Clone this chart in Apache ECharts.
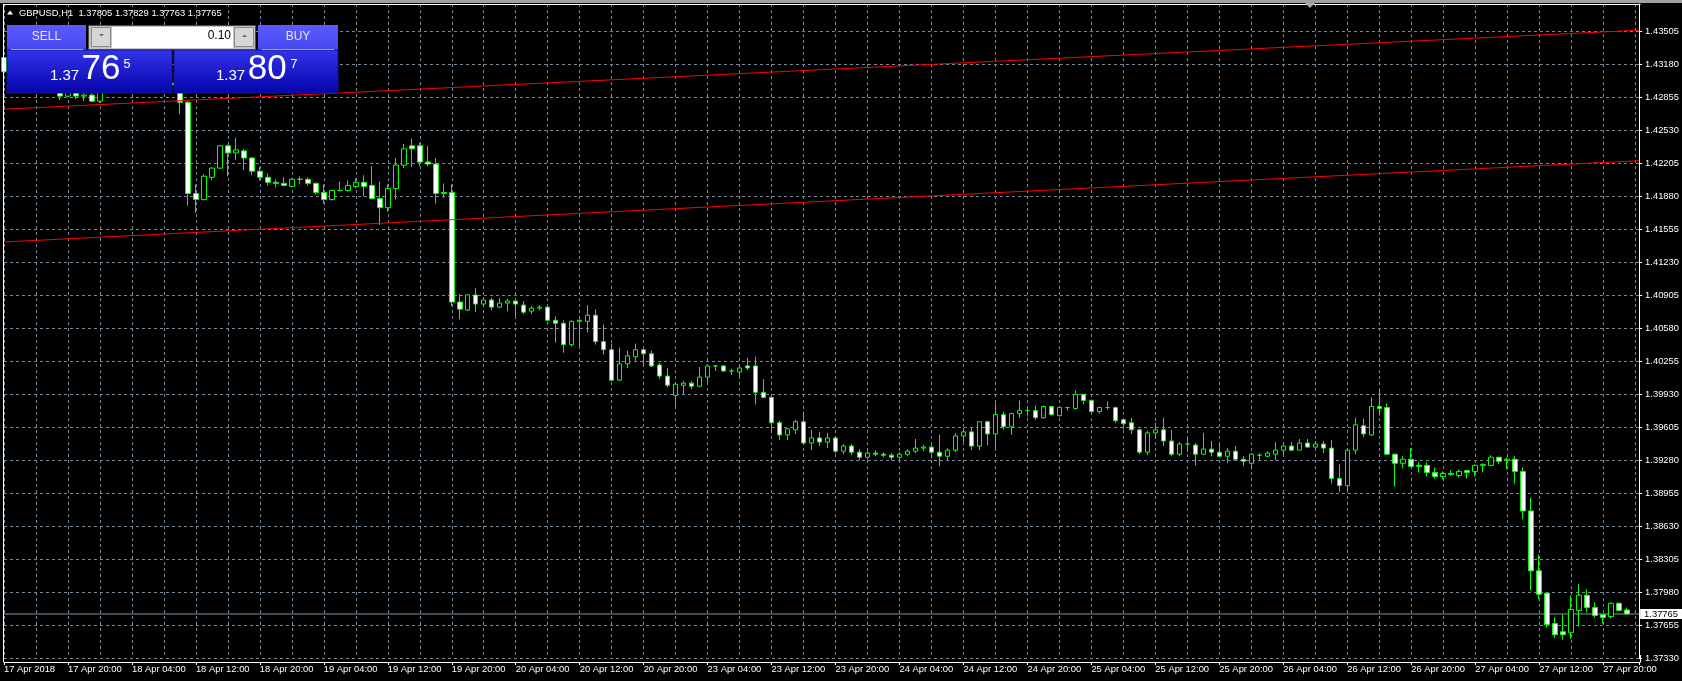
<!DOCTYPE html>
<html><head><meta charset="utf-8">
<script src="https://cdn.jsdelivr.net/npm/echarts@6/dist/echarts.min.js"></script>
<style>html,body{margin:0;padding:0;background:#000;overflow:hidden}#c{width:1682px;height:681px}</style>
</head><body><div id="c"></div>
<script>
// ---------------- data ----------------
const symbolName = 'GBPUSD,H1';
const lastBar = [1.37805, 1.37829, 1.37763, 1.37765];
const bidPrice = 1.37765;
const askPrice = 1.37807;
const lotSize = '0.10';

const tickLabels = ['17 Apr 2018','17 Apr 20:00','18 Apr 04:00','18 Apr 12:00','18 Apr 20:00','19 Apr 04:00','19 Apr 12:00','19 Apr 20:00','20 Apr 04:00','20 Apr 12:00','20 Apr 20:00','23 Apr 04:00','23 Apr 12:00','23 Apr 20:00','24 Apr 04:00','24 Apr 12:00','24 Apr 20:00','25 Apr 04:00','25 Apr 12:00','25 Apr 20:00','26 Apr 04:00','26 Apr 12:00','26 Apr 20:00','27 Apr 04:00','27 Apr 12:00','27 Apr 20:00'];
const barsPerLabel = 8;

const opens = [
1.4325,1.4311,1.4334,1.4326,1.4309,1.4302,1.4306,1.4296,1.4287,1.4291,1.4287,1.4288,1.4282,1.4292,1.4299,1.4296,1.4301,1.4305,1.4299,1.4302,
1.4297,1.4300,1.4298,1.4281,1.4191,1.4185,1.4207,1.4216,1.4238,1.4231,1.4233,1.4226,1.4213,1.4207,1.4202,1.4201,1.4198,1.4205,1.4205,1.4201,
1.4192,1.4185,1.4194,1.4194,1.4198,1.4202,1.4199,1.4186,1.4177,1.4196,1.4219,1.4238,1.4238,1.4222,1.4220,1.4191,1.4192,1.4084,1.4076,1.4091,
1.4082,1.4086,1.4079,1.4083,1.4085,1.4081,1.4075,1.4078,1.4079,1.4066,1.4063,1.4042,1.4065,1.4065,1.4071,1.4045,1.4037,1.4007,1.4023,1.4030,
1.4037,1.4033,1.4022,1.4011,1.3992,1.4002,1.4004,1.4001,1.4010,1.4021,1.4021,1.4016,1.4015,1.4021,1.4021,1.3995,1.3990,1.3965,1.3953,1.3958,
1.3966,1.3945,1.3950,1.3946,1.3950,1.3937,1.3942,1.3936,1.3931,1.3935,1.3934,1.3933,1.3931,1.3934,1.3937,1.3940,1.3941,1.3936,1.3932,1.3938,
1.3952,1.3956,1.3942,1.3966,1.3954,1.3973,1.3961,1.3974,1.3977,1.3977,1.3970,1.3981,1.3972,1.3980,1.3979,1.3993,1.3987,1.3976,1.3980,1.3980,
1.3968,1.3965,1.3958,1.3936,1.3955,1.3958,1.3947,1.3934,1.3944,1.3943,1.3934,1.3939,1.3936,1.3932,1.3937,1.3929,1.3925,1.3933,1.3932,1.3934,
1.3938,1.3942,1.3938,1.3945,1.3941,1.3944,1.3940,1.3910,1.3903,1.3938,1.3962,1.3953,1.3981,1.3980,1.3934,1.3925,1.3929,1.3923,1.3923,1.3916,
1.3912,1.3914,1.3913,1.3918,1.3917,1.3923,1.3923,1.3931,1.3928,1.3929,1.3917,1.3878,1.3819,1.3797,1.3767,1.3759,1.3758,1.3780,1.3795,1.3783,
1.3776,1.3774,1.3787,1.37805];
const highs = [
1.4335,1.4340,1.4352,1.4331,1.4318,1.4312,1.4310,1.4302,1.4295,1.4298,1.4294,1.4292,1.4296,1.4302,1.4306,1.4304,1.4309,1.4310,1.4304,1.4308,
1.4303,1.4306,1.4303,1.4282,1.4200,1.4210,1.4217,1.4239,1.4239,1.4246,1.4235,1.4227,1.4217,1.4211,1.4205,1.4207,1.4206,1.4208,1.4207,1.4202,
1.4200,1.4195,1.4203,1.4204,1.4206,1.4209,1.4218,1.4203,1.4200,1.4226,1.4240,1.4245,1.4241,1.4238,1.4226,1.4201,1.4200,1.4092,1.4092,1.4098,
1.4089,1.4088,1.4088,1.4087,1.4085,1.4085,1.4080,1.4081,1.4080,1.4070,1.4066,1.4066,1.4067,1.4081,1.4077,1.4062,1.4043,1.4039,1.4036,1.4043,
1.4037,1.4036,1.4024,1.4019,1.4005,1.4006,1.4006,1.4020,1.4021,1.4022,1.4022,1.4018,1.4022,1.4029,1.4030,1.4008,1.3991,1.3967,1.3960,1.3968,
1.3976,1.3958,1.3956,1.3955,1.3952,1.3944,1.3944,1.3939,1.3937,1.3938,1.3936,1.3935,1.3936,1.3939,1.3949,1.3943,1.3943,1.3953,1.3940,1.3955,
1.3960,1.3960,1.3966,1.3967,1.3984,1.3976,1.3975,1.3987,1.3981,1.3982,1.3982,1.3982,1.3981,1.3980,1.3997,1.3993,1.3988,1.3980,1.3986,1.3981,
1.3969,1.3970,1.3959,1.3957,1.3965,1.3970,1.3958,1.3946,1.3949,1.3945,1.3955,1.3947,1.3946,1.3940,1.3942,1.3932,1.3935,1.3935,1.3937,1.3946,
1.3946,1.3946,1.3949,1.3949,1.3947,1.3947,1.3948,1.3924,1.3940,1.3970,1.3969,1.3990,1.3998,1.3984,1.3934,1.3932,1.3940,1.3926,1.3926,1.3921,
1.3917,1.3918,1.3919,1.3918,1.3924,1.3925,1.3933,1.3931,1.3931,1.3932,1.3921,1.3891,1.3835,1.3798,1.3773,1.3776,1.3795,1.3806,1.3801,1.3788,
1.3776,1.3788,1.3788,1.37829];
const lows = [
1.4311,1.4308,1.4322,1.4305,1.4298,1.4296,1.4294,1.4283,1.4286,1.4284,1.4282,1.4281,1.4280,1.4291,1.4293,1.4292,1.4297,1.4296,1.4293,1.4295,
1.4292,1.4294,1.4269,1.4179,1.4172,1.4184,1.4204,1.4215,1.4208,1.4224,1.4214,1.4209,1.4204,1.4199,1.4197,1.4198,1.4197,1.4200,1.4199,1.4190,
1.4181,1.4184,1.4193,1.4193,1.4196,1.4188,1.4185,1.4160,1.4173,1.4185,1.4216,1.4217,1.4218,1.4218,1.4181,1.4187,1.4080,1.4067,1.4075,1.4074,
1.4079,1.4076,1.4078,1.4075,1.4070,1.4072,1.4072,1.4076,1.4065,1.4044,1.4034,1.4040,1.4040,1.4054,1.4042,1.4032,1.4006,1.4006,1.4019,1.4026,
1.4020,1.4020,1.4008,1.4000,1.3981,1.3993,1.3998,1.4000,1.4004,1.4016,1.4015,1.4012,1.4010,1.4017,1.3983,1.3989,1.3955,1.3948,1.3948,1.3954,
1.3943,1.3938,1.3942,1.3940,1.3935,1.3934,1.3933,1.3928,1.3929,1.3932,1.3931,1.3928,1.3927,1.3932,1.3935,1.3937,1.3930,1.3922,1.3928,1.3936,
1.3946,1.3938,1.3938,1.3943,1.3940,1.3958,1.3953,1.3970,1.3971,1.3968,1.3969,1.3972,1.3971,1.3977,1.3978,1.3983,1.3975,1.3974,1.3978,1.3965,
1.3959,1.3954,1.3934,1.3933,1.3949,1.3942,1.3932,1.3932,1.3936,1.3923,1.3933,1.3932,1.3931,1.3925,1.3928,1.3922,1.3919,1.3928,1.3931,1.3928,
1.3933,1.3937,1.3938,1.3940,1.3939,1.3935,1.3905,1.3897,1.3898,1.3934,1.3951,1.3952,1.3972,1.3933,1.3902,1.3920,1.3921,1.3916,1.3912,1.3910,
1.3909,1.3913,1.3911,1.3910,1.3912,1.3916,1.3923,1.3924,1.3919,1.3905,1.3870,1.3800,1.3791,1.3763,1.3753,1.3751,1.3752,1.3764,1.3778,1.3773,
1.3767,1.3772,1.3779,1.37763];
const closes = [
1.4311,1.4334,1.4326,1.4309,1.4302,1.4306,1.4296,1.4287,1.4291,1.4287,1.4288,1.4282,1.4292,1.4299,1.4296,1.4301,1.4305,1.4299,1.4302,1.4297,
1.4300,1.4298,1.4281,1.4191,1.4185,1.4208,1.4216,1.4238,1.4231,1.4234,1.4226,1.4213,1.4207,1.4202,1.4201,1.4199,1.4205,1.4205,1.4201,1.4192,
1.4185,1.4194,1.4194,1.4199,1.4202,1.4198,1.4186,1.4177,1.4196,1.4219,1.4235,1.4235,1.4222,1.4220,1.4191,1.4192,1.4084,1.4077,1.4091,1.4082,
1.4086,1.4079,1.4083,1.4085,1.4082,1.4074,1.4078,1.4079,1.4066,1.4063,1.4042,1.4065,1.4066,1.4071,1.4045,1.4037,1.4007,1.4023,1.4031,1.4037,
1.4033,1.4021,1.4011,1.4002,1.4003,1.4004,1.4001,1.4010,1.4021,1.4021,1.4016,1.4016,1.4019,1.4019,1.3995,1.3990,1.3965,1.3953,1.3959,1.3966,
1.3945,1.3950,1.3946,1.3950,1.3937,1.3942,1.3936,1.3931,1.3935,1.3934,1.3933,1.3931,1.3934,1.3937,1.3940,1.3941,1.3936,1.3932,1.3938,1.3952,
1.3956,1.3942,1.3966,1.3954,1.3973,1.3961,1.3974,1.3977,1.3977,1.3970,1.3981,1.3973,1.3980,1.3980,1.3993,1.3987,1.3976,1.3980,1.3980,1.3967,
1.3964,1.3958,1.3936,1.3955,1.3958,1.3947,1.3934,1.3944,1.3944,1.3934,1.3939,1.3936,1.3932,1.3937,1.3929,1.3927,1.3934,1.3933,1.3935,1.3938,
1.3942,1.3938,1.3945,1.3941,1.3944,1.3940,1.3910,1.3903,1.3938,1.3963,1.3954,1.3981,1.3979,1.3934,1.3925,1.3929,1.3922,1.3922,1.3916,1.3912,
1.3915,1.3915,1.3917,1.3916,1.3923,1.3924,1.3931,1.3927,1.3929,1.3917,1.3878,1.3819,1.3796,1.3766,1.3756,1.3756,1.3781,1.3795,1.3783,1.3775,
1.3773,1.3787,1.3780,1.37765];

// channel trend lines: [bar index, price]
const upperTrend = [[0, 1.42741], [204.5, 1.43520]];
const lowerTrend = [[0, 1.41432], [204.5, 1.42233]];

// price axis
const priceBase = 1.37330;   // lowest labelled price
const priceStep = 0.00325;   // label step
const priceTop = 1.43778;    // price at the top edge of the chart
const barSlots = 204.5;      // visible bar slots

// ---------------- chart ----------------
const FONT = '"Liberation Sans", Arial, sans-serif';
const GRID = '#778899';
const LIME = '#00ff00';

const candleData = opens.map((o, i) => [i, o - priceBase, closes[i] - priceBase, lows[i] - priceBase, highs[i] - priceBase]);
const shift = arr => arr.map(p => [p[0], p[1] - priceBase]);

function splitQuote(p) { const s = p.toFixed(5); return [s.slice(0, 4), s.slice(4, 6), s.slice(6)]; }
const sq = splitQuote(bidPrice), bq = splitQuote(askPrice);

function grad(a, b) { return new echarts.graphic.LinearGradient(0, 0, 0, 1, [{offset: 0, color: a}, {offset: 1, color: b}]); }
function txt(text, x, y, size, fill, align) {
  return {type: 'text', z: 110, silent: true, style: {text: text, x: x, y: y, fill: fill, fontSize: size, fontFamily: FONT, align: align || 'left', verticalAlign: 'middle'}};
}

const chart = echarts.init(document.getElementById('c'), null, {renderer: 'canvas'});
chart.setOption({
  animation: false,
  backgroundColor: '#000',
  grid: {left: 4, right: 42, top: 4, bottom: 22.9, containLabel: false},
  xAxis: [{
    type: 'value', position: 'bottom', min: 0, max: barSlots, interval: barsPerLabel, offset: 4,
    axisLine: {show: true, onZero: false, lineStyle: {color: '#fff', width: 1}},
    axisTick: {show: true, inside: false, length: 3, lineStyle: {color: '#fff'}},
    axisLabel: {show: true, color: '#fff', fontSize: 9.4, fontFamily: FONT, align: 'left', margin: 3,
      formatter: v => (v % barsPerLabel === 0 && tickLabels[v / barsPerLabel]) || ''},
    splitLine: {show: false}
  }, {
    type: 'value', position: 'top', min: 0, max: barSlots, interval: barsPerLabel / 2,
    axisLine: {show: false, onZero: false}, axisTick: {show: false}, axisLabel: {show: false},
    splitLine: {show: true, lineStyle: {color: GRID, width: 1, type: [3, 3]}}
  }],
  yAxis: {
    type: 'value', position: 'right', min: 0, max: priceTop - priceBase, interval: priceStep,
    axisLine: {show: true, onZero: false, lineStyle: {color: '#fff', width: 1}},
    axisTick: {show: true, inside: false, length: 3, lineStyle: {color: '#fff'}},
    axisLabel: {show: true, color: '#fff', fontSize: 9.4, fontFamily: FONT, margin: 6, showMaxLabel: false,
      formatter: v => (priceBase + v).toFixed(5)},
    splitLine: {show: true, lineStyle: {color: GRID, width: 1, type: [3, 3]}}
  },
  series: [{
    type: 'line', xAxisIndex: 0, data: [[0, bidPrice - priceBase], [barSlots, bidPrice - priceBase]],
    symbol: 'none', silent: true, z: 2,
    lineStyle: {color: '#8795a3', width: 1},
    endLabel: {show: true, formatter: bidPrice.toFixed(5), color: '#000', backgroundColor: '#fff', distance: 1,
      fontSize: 9.4, fontFamily: FONT, padding: [1, 4, 0, 4]}
  }, {
    type: 'candlestick', xAxisIndex: 0, yAxisIndex: 0, data: candleData, barWidth: 5, clip: false,
    large: false, emphasis: {disabled: true}, silent: true,
    itemStyle: {color: '#000', color0: '#fff', borderColor: LIME, borderColor0: LIME, borderColorDoji: LIME, borderWidth: 1},
    z: 3
  }, {
    type: 'line', xAxisIndex: 0, data: shift(upperTrend), symbol: 'none', silent: true,
    lineStyle: {color: '#ff0000', width: 1}, z: 4
  }, {
    type: 'line', xAxisIndex: 0, data: shift(lowerTrend), symbol: 'none', silent: true,
    lineStyle: {color: '#ff0000', width: 1}, z: 4
  }],
  graphic: {elements: [
    {type: 'rect', z: 100, silent: true, shape: {x: 0, y: 0, width: 1682, height: 3}, style: {fill: '#a0a0a0'}},
    {type: 'line', z: 100, silent: true, shape: {x1: 3.5, y1: 4.5, x2: 1640.5, y2: 4.5}, style: {stroke: '#fff', lineWidth: 1}},
    {type: 'line', z: 100, silent: true, shape: {x1: 3.5, y1: 4, x2: 3.5, y2: 662}, style: {stroke: '#fff', lineWidth: 1}},
    {type: 'line', z: 100, silent: true, shape: {x1: 1640.5, y1: 655, x2: 1640.5, y2: 662.5}, style: {stroke: '#fff', lineWidth: 1}},
    {type: 'polygon', z: 100, silent: true, shape: {points: [[1305, 3], [1315, 3], [1310, 8]]}, style: {fill: '#a8a8a8'}},
    // title
    {type: 'polygon', z: 110, silent: true, shape: {points: [[7, 14.5], [13, 14.5], [10, 10.5]]}, style: {fill: '#fff'}},
    txt(symbolName + '  ' + lastBar.map(v => v.toFixed(5)).join(' '), 19, 13.4, 9.4, '#fff'),
    // one-click trading panel
    {type: 'rect', z: 105, silent: true, shape: {x: 7, y: 25, width: 79, height: 25}, style: {fill: grad('#5a5afd', '#4848f0')}},
    {type: 'rect', z: 105, silent: true, shape: {x: 7, y: 50, width: 165, height: 43}, style: {fill: grad('#3333ea', '#0404aa'), stroke: '#16168c', lineWidth: 1}},
    {type: 'rect', z: 105, silent: true, shape: {x: 258, y: 25, width: 80, height: 25}, style: {fill: grad('#5a5afd', '#4848f0')}},
    {type: 'rect', z: 105, silent: true, shape: {x: 174, y: 50, width: 164, height: 43}, style: {fill: grad('#3333ea', '#0404aa'), stroke: '#16168c', lineWidth: 1}},
    {type: 'line', z: 106, silent: true, shape: {x1: 11, y1: 49.5, x2: 83, y2: 49.5}, style: {stroke: '#9a9aff', lineWidth: 1}},
    {type: 'line', z: 106, silent: true, shape: {x1: 262, y1: 49.5, x2: 334, y2: 49.5}, style: {stroke: '#9a9aff', lineWidth: 1}},
    txt('SELL', 46.5, 37, 12, '#e6e6ff', 'center'),
    txt('BUY', 298, 37, 12, '#e6e6ff', 'center'),
    {type: 'rect', z: 105, silent: true, shape: {x: 88.5, y: 25.5, width: 167, height: 24}, style: {fill: '#c4c4c4', stroke: '#4a4a4a', lineWidth: 1}},
    {type: 'rect', z: 106, silent: true, shape: {x: 91.5, y: 27.5, width: 19, height: 19}, style: {fill: '#d6d6d6', stroke: '#8a8a8a', lineWidth: 1}},
    {type: 'rect', z: 106, silent: true, shape: {x: 112, y: 27, width: 121, height: 21}, style: {fill: '#ffffff'}},
    {type: 'rect', z: 106, silent: true, shape: {x: 234.5, y: 27.5, width: 19, height: 19}, style: {fill: '#d6d6d6', stroke: '#8a8a8a', lineWidth: 1}},
    {type: 'polygon', z: 107, silent: true, shape: {points: [[99, 34], [104, 34], [101.5, 36.5]]}, style: {fill: '#5b6b95'}},
    {type: 'polygon', z: 107, silent: true, shape: {points: [[242, 37], [247, 37], [244.5, 34.5]]}, style: {fill: '#5b6b95'}},
    txt(lotSize, 231, 35.8, 12, '#000', 'right'),
    txt(sq[0], 50, 75.4, 15, '#fff'),
    txt(sq[1], 81.6, 69.2, 35, '#fff'),
    txt(sq[2], 123.5, 64.4, 12.5, '#fff'),
    txt(bq[0], 216, 75.4, 15, '#fff'),
    txt(bq[1], 247.8, 69.2, 35, '#fff'),
    txt(bq[2], 290.4, 64.4, 12.5, '#fff')
  ]}
});
</script>
</body></html>
